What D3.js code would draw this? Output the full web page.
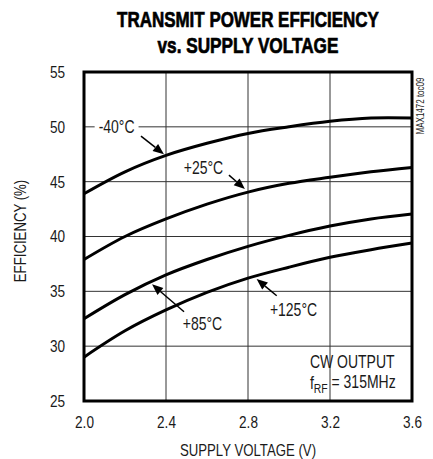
<!DOCTYPE html>
<html>
<head>
<meta charset="utf-8">
<script src="https://cdn.jsdelivr.net/npm/d3@7"></script>
<style>
  html, body { margin: 0; padding: 0; background: #fff; }
  svg { display: block; }
  text { font-family: "Liberation Sans", Arial, sans-serif; fill: #1a1a1a; }
</style>
</head>
<body>
<svg id="chart" width="433" height="459"></svg>
<script>
// ---- Data ----
const voltages = [2.0, 2.2, 2.4, 2.6, 2.8, 3.0, 3.2, 3.4, 3.6];
const effM40  = [43.9, 45.9, 47.4, 48.5, 49.4, 50.0, 50.5, 50.8, 50.8];
const eff25   = [37.9, 40.0, 41.6, 42.95, 44.05, 44.85, 45.4, 45.9, 46.3];
const eff85   = [32.5, 34.7, 36.5, 37.9, 39.1, 40.1, 40.95, 41.6, 42.05];
const eff125  = [29.0, 31.4, 33.3, 34.9, 36.2, 37.2, 38.1, 38.8, 39.4];
const seriesNames = ["-40°C", "+25°C", "+85°C", "+125°C"];
const xTicks = [2.0, 2.4, 2.8, 3.2, 3.6];
const yTicks = [25, 30, 35, 40, 45, 50, 55];
// annotation: label position and arrow (start -> tip), in data units
const labelV   = [2.159, 2.583, 2.578, 3.022];
const labelE   = [50.0, 46.27, 32.02, 33.3];
const arrowV0  = [2.278, 2.707, 2.488, 2.94];
const arrowE0  = [49.16, 45.6, 33.14, 34.6];
const arrowV1  = [2.39, 2.785, 2.332, 2.842];
const arrowE1  = [47.5, 44.33, 35.64, 36.12];
const noteV = 3.102, noteE1 = 28.58, noteE2 = 26.64;

// ---- Layout ----
const svg = d3.select("#chart");
const mLeft = 84, mRight = 412, mTop = 72, mBottom = 401;
const SX = 0.8; // horizontal condensing of the light font
const x = d3.scaleLinear().domain([2.0, 3.6]).range([mLeft, mRight]);
const y = d3.scaleLinear().domain([25, 55]).range([mBottom, mTop]);

// condense a text element horizontally around its anchor point
function condense(sel, sx) {
  sel.each(function () {
    const t = d3.select(this);
    const tx = +t.attr("x") || 0, ty = +t.attr("y") || 0;
    const prev = t.attr("transform") || "";
    t.attr("transform", `${prev} translate(${tx},${ty}) scale(${sx},1) translate(${-tx},${-ty})`);
  });
}

// title (fit to target width)
function titleLine(txt, ty, w) {
  const t = svg.append("text").attr("x", 248).attr("y", ty).attr("text-anchor", "middle")
    .style("font-weight", "bold").style("font-size", "22.5px").style("fill", "#000")
    .style("stroke", "#000").style("stroke-width", "0.7px").text(txt);
  const len = t.node().getComputedTextLength();
  condense(t, w / len);
}
titleLine("TRANSMIT POWER EFFICIENCY", 27, 262);
titleLine("vs. SUPPLY VOLTAGE", 53, 181);

// grid
const grid = svg.append("g");
grid.selectAll("line.v").data(xTicks.slice(1, -1)).join("line").attr("class", "v")
  .attr("x1", d => x(d)).attr("x2", d => x(d)).attr("y1", mTop).attr("y2", mBottom)
  .attr("stroke", "#333").attr("stroke-width", 1);
grid.selectAll("line.h").data(yTicks.slice(1, -1)).join("line").attr("class", "h")
  .attr("y1", d => y(d)).attr("y2", d => y(d)).attr("x1", mLeft).attr("x2", mRight)
  .attr("stroke", "#333").attr("stroke-width", 1);

// axes via d3 axis (labels only)
const xAxis = svg.append("g").attr("transform", `translate(0,${mBottom})`)
  .call(d3.axisBottom(x).tickValues(xTicks).tickFormat(d3.format(".1f")).tickSize(0).tickPadding(15));
const yAxis = svg.append("g").attr("transform", `translate(${mLeft},0)`)
  .call(d3.axisLeft(y).tickValues(yTicks).tickFormat(d3.format("d")).tickSize(0).tickPadding(19));
[xAxis, yAxis].forEach(a => {
  a.select(".domain").remove();
  a.selectAll("text").style("font-size", "17px").style("font-family", "'Liberation Sans', sans-serif").style("fill", "#1a1a1a");
  condense(a.selectAll("text"), SX);
});

// axis titles
const xt = svg.append("text").attr("x", 248).attr("y", 456).attr("text-anchor", "middle")
  .style("font-size", "16.5px").text("SUPPLY VOLTAGE (V)");
condense(xt, SX);
svg.append("text").attr("transform", `translate(26,231) rotate(-90) scale(${SX},1)`).attr("text-anchor", "middle")
  .style("font-size", "16.5px").text("EFFICIENCY (%)");

// curves
const allSeries = [effM40, eff25, eff85, eff125];
const line = d3.line().x((d, i) => x(voltages[i])).y(d => y(d)).curve(d3.curveCatmullRom.alpha(0.5));
svg.append("g").selectAll("path").data(allSeries).join("path")
  .attr("d", line).attr("fill", "none").attr("stroke", "#000").attr("stroke-width", 3);

// annotations
const ann = svg.append("g");
seriesNames.forEach((name, i) => {
  const lx = x(labelV[i]), ly = y(labelE[i]);
  const t = ann.append("text").attr("x", lx).attr("y", ly).attr("dy", "0.35em")
    .attr("text-anchor", "middle").style("font-size", "17.5px").text(name);
  condense(t, SX);
  if (i === 0) {
    const bb = t.node().getBBox();
    const w = bb.width * SX;
    ann.insert("rect", "text").attr("x", lx - w / 2 - 4).attr("y", bb.y).attr("width", w + 8)
      .attr("height", bb.height).attr("fill", "#fff");
  }
  const x0 = x(arrowV0[i]), y0 = y(arrowE0[i]), x1 = x(arrowV1[i]), y1 = y(arrowE1[i]);
  const ang = Math.atan2(y1 - y0, x1 - x0);
  const hl = 11, hw = 4.5;
  const bx = x1 - hl * Math.cos(ang), by = y1 - hl * Math.sin(ang);
  ann.append("line").attr("x1", x0).attr("y1", y0).attr("x2", bx).attr("y2", by)
    .attr("stroke", "#000").attr("stroke-width", 1.5);
  const px = -Math.sin(ang), py = Math.cos(ang);
  ann.append("polygon")
    .attr("points", [[x1, y1], [bx + px * hw, by + py * hw], [bx - px * hw, by - py * hw]].map(p => p.join(",")).join(" "))
    .attr("fill", "#000");
});

// note
const n1 = ann.append("text").attr("x", x(noteV)).attr("y", y(noteE1)).attr("dy", "0.35em")
  .style("font-size", "17.5px").text("CW OUTPUT");
condense(n1, SX);
const n2 = ann.append("text").attr("x", x(noteV)).attr("y", y(noteE2)).attr("dy", "0.35em")
  .style("font-size", "17.5px");
n2.append("tspan").text("f");
n2.append("tspan").attr("dy", "0.3em").style("font-size", "13px").text("RF");
n2.append("tspan").attr("dy", "-0.3em").text(" = 315MHz");
condense(n2, SX);

// frame
svg.append("rect").attr("x", mLeft).attr("y", mTop).attr("width", mRight - mLeft).attr("height", mBottom - mTop)
  .attr("fill", "none").attr("stroke", "#000").attr("stroke-width", 3);

// side id
svg.append("text").attr("transform", "translate(424,106) rotate(-90) scale(0.8,1)").attr("text-anchor", "middle")
  .style("font-size", "10px").text("MAX1472 toc09");
</script>
</body>
</html>
